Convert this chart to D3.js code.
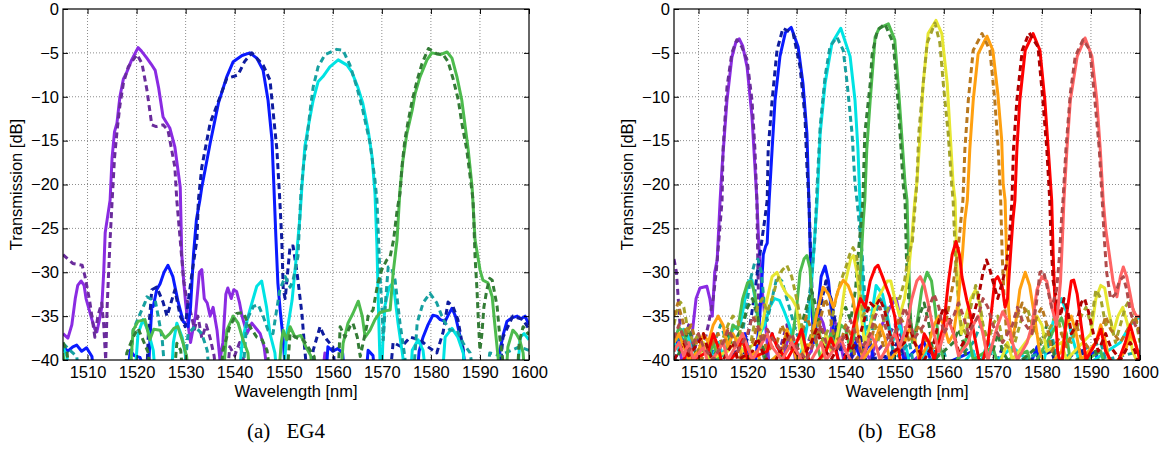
<!DOCTYPE html>
<html>
<head>
<meta charset="utf-8">
<script src="https://cdn.jsdelivr.net/npm/d3@7"></script>
<style>
body { margin: 0; background: #fff; }
svg { display: block; }
</style>
</head>
<body>
<div id="chart"></div>
<script>
// axis values
var xDomain = [1505, 1600];
var yDomain = [-40, 0];
var xTicks = [1510, 1520, 1530, 1540, 1550, 1560, 1570, 1580, 1590, 1600];
var yTicks = [0, -5, -10, -15, -20, -25, -30, -35, -40];
var xLabel = "Wavelength [nm]";
var yLabel = "Transmission [dB]";
var captions = ["(a)", "EG4", "(b)", "EG8"];

// ---------- EG4 : [wavelength nm, transmission dB] ----------
var eg4Ch1Solid = [[1505,-37],[1506,-37.5],[1506.8,-36],[1507.5,-33],[1508,-31.5],[1508.7,-31],[1509.3,-31.5],[1509.7,-33],[1510.2,-34],[1510.9,-35.4],[1511.5,-36.5],[1511.9,-36.8],[1512.4,-35.5],[1512.9,-34],[1513.3,-30],[1513.6,-25.5],[1514,-24],[1514.6,-21.8],[1515,-17],[1515.5,-14],[1516,-13],[1516.6,-10],[1517.3,-8],[1518,-7.2],[1519,-5.8],[1520.3,-4.4],[1521,-4.8],[1522.1,-5.6],[1523,-6.3],[1523.8,-7],[1524.5,-9],[1525.4,-12.3],[1526.8,-13.6],[1527.8,-15.7],[1528.9,-20.3],[1529.2,-27.8],[1529.6,-31],[1530,-33.5],[1530.5,-36],[1531,-38],[1532,-35],[1532.8,-30],[1533.3,-29.7],[1533.8,-33],[1534.4,-33.5],[1535,-35],[1535.6,-34],[1536.4,-36.6],[1537,-40],[1537.6,-38],[1538.2,-32.5],[1538.6,-31.8],[1539.3,-33],[1539.8,-32],[1540.4,-32.2],[1541,-33.5],[1541.5,-35],[1542.5,-37],[1543.5,-35.8],[1544.5,-36.5],[1545.2,-37],[1546,-38.5],[1547,-43],[1557.6,-43],[1558.4,-39.2],[1559,-43],[1600,-43]];
var eg4Ch1Dash = [[1505,-28],[1505.8,-28.4],[1507,-29],[1508.9,-29.2],[1509.5,-30.5],[1510.5,-33.5],[1511.5,-37.4],[1512.1,-35],[1512.9,-33.5],[1513.3,-36],[1513.7,-40],[1514,-34],[1514.3,-30],[1514.6,-26.3],[1515,-22],[1515.5,-17],[1516,-14],[1516.6,-11],[1517.3,-8.5],[1518.3,-6.6],[1519.3,-5.8],[1520.1,-5.2],[1521.1,-6.2],[1522.1,-9.2],[1523.1,-13.2],[1524,-13.4],[1525.4,-13.2],[1526.4,-13.8],[1527.8,-18],[1528.2,-21.8],[1529,-27],[1529.6,-31],[1530.2,-33],[1531,-34.5],[1531.8,-36.5],[1532.5,-35],[1533.3,-37.5],[1534.2,-36],[1535,-37.5],[1535.8,-39.5],[1536.5,-43],[1538.3,-43],[1539,-38.5],[1540,-39.5],[1541,-38],[1542,-40.5],[1543,-43],[1600,-43]];
var eg4Ch2Solid = [[1505,-38.5],[1506,-39],[1507,-38.5],[1507.8,-38.3],[1508.8,-39],[1509.8,-38.6],[1510.9,-39.6],[1511.5,-43],[1518,-43],[1518.7,-38.9],[1519.5,-39.5],[1520.7,-39.7],[1521.5,-41],[1522.3,-43],[1522.7,-38],[1523.1,-34],[1523.4,-33.9],[1524.1,-32],[1524.8,-31.3],[1525.6,-30],[1526.4,-29.2],[1527.4,-30.5],[1528.4,-33.2],[1529.5,-35.6],[1530.5,-36.2],[1531,-34],[1531.6,-28],[1532.2,-24],[1532.9,-21.8],[1533.3,-20.3],[1535,-15.3],[1536.7,-10.7],[1538.4,-7.7],[1539.7,-6],[1541.5,-5.3],[1543.1,-5],[1544.5,-5.6],[1545.8,-7],[1546.8,-10.4],[1547.6,-14.9],[1548,-20.3],[1548.4,-26],[1548.8,-31.2],[1549.3,-34.5],[1549.9,-37.7],[1550.5,-43],[1558.5,-43],[1559,-38.5],[1560,-39],[1561,-38.7],[1562,-39.2],[1562.6,-43],[1566.6,-43],[1567.2,-38.9],[1568.2,-39.5],[1568.8,-43],[1577,-43],[1577.6,-39],[1578.4,-37.4],[1579.4,-36],[1580.4,-34.9],[1581.2,-35],[1581.9,-35.4],[1582.9,-35.6],[1583.6,-34.8],[1584.3,-34.1],[1585,-35],[1585.5,-36.2],[1586.6,-38.9],[1587.2,-43],[1593.6,-43],[1594.1,-38.8],[1594.8,-37],[1595.5,-35.6],[1596.5,-35.2],[1597.6,-35],[1598.4,-35.3],[1599.2,-35],[1600,-36]];
var eg4Ch2Dash = [[1505,-43],[1522,-43],[1522.4,-37],[1523.1,-32],[1524.1,-31.7],[1525.4,-33.4],[1526.2,-35],[1526.8,-33.9],[1527.8,-32],[1528.9,-35],[1529.9,-36.2],[1530.6,-33],[1531.3,-30.1],[1532.3,-26.3],[1532.6,-21.8],[1533.3,-18],[1535,-13],[1536.3,-11.1],[1538.4,-7.9],[1539.7,-7.7],[1540.7,-7.5],[1542,-6],[1543.5,-5],[1545.8,-6.4],[1547.2,-8.1],[1547.8,-11.5],[1548.6,-16],[1549.2,-21.8],[1549.6,-26.3],[1549.9,-32],[1550.3,-33],[1550.8,-30],[1551.3,-27],[1551.9,-27],[1552.7,-30],[1553.7,-34.7],[1554.3,-38.9],[1555,-43],[1555.6,-43],[1556,-38.9],[1557.4,-36.2],[1558,-37],[1558.8,-37.7],[1560,-38.5],[1560.8,-43],[1571.5,-43],[1572.3,-38],[1574,-38.5],[1575.8,-37.4],[1577.8,-37.7],[1579.4,-38.5],[1581.2,-39.2],[1582.5,-36.8],[1583.5,-33.4],[1584.5,-33.9],[1585.5,-35.4],[1586.5,-38.5],[1587.2,-43],[1593.8,-43],[1594.7,-37.4],[1596.7,-35],[1598.8,-35.4],[1600,-36.5]];
var eg4Ch3Solid = [[1505,-38.5],[1505.8,-39.6],[1506.4,-43],[1519.5,-43],[1520.3,-37],[1521.3,-35.4],[1522.3,-36.6],[1523.4,-38.9],[1524,-43],[1527,-43],[1527.5,-38],[1528.2,-35.8],[1529.3,-37.4],[1529.9,-39.2],[1530.4,-43],[1540.8,-43],[1541.5,-38],[1542.3,-36],[1543.1,-34.3],[1544.5,-31.6],[1545.5,-31],[1546.5,-34],[1547.2,-37],[1548.2,-39.2],[1548.8,-43],[1549.8,-43],[1550.6,-37],[1551.7,-33.2],[1552.7,-27.5],[1553.3,-23.7],[1553.7,-20.3],[1554.3,-15.7],[1555,-13.4],[1556,-10.4],[1557,-8.3],[1558,-7.7],[1559.4,-6.6],[1561.1,-5.8],[1562.9,-6.4],[1563.9,-7.2],[1565.1,-8.9],[1566.1,-10.7],[1567.2,-13.8],[1568,-16.8],[1568.6,-21],[1569,-27],[1569.3,-34],[1569.6,-39.7],[1569.9,-43],[1570.2,-38],[1570.6,-33.9],[1571.5,-31.7],[1572,-31.4],[1572.6,-32.5],[1573.3,-35.8],[1574.3,-39.7],[1574.8,-43],[1575.7,-43],[1576.2,-38.9],[1577.4,-37.7],[1578.4,-38.9],[1579.2,-43],[1582.2,-43],[1582.9,-37.4],[1584.3,-36.4],[1585.5,-37.4],[1586.6,-39.2],[1587.2,-43],[1597.5,-43],[1598.2,-37.4],[1599,-37],[1600,-37.7]];
var eg4Ch3Dash = [[1505,-38.1],[1506.4,-38.9],[1507.8,-39.6],[1508.5,-43],[1518.5,-43],[1519.3,-36.6],[1520.5,-35],[1521.7,-33.5],[1522.1,-32.8],[1522.7,-33],[1523.8,-33.2],[1524.4,-35],[1525.2,-37.5],[1526,-43],[1529.5,-43],[1530.5,-37],[1531.9,-36.2],[1533.3,-37],[1534.4,-38.9],[1535,-43],[1541.5,-43],[1542.5,-35.4],[1543.8,-33.9],[1544.8,-33.7],[1545.8,-35],[1546.8,-36.6],[1547.8,-37],[1549.2,-32],[1550.3,-30.5],[1551.3,-31.7],[1551.9,-30.9],[1552.9,-28.2],[1553.5,-21],[1554,-18],[1554.7,-14.9],[1555.4,-11.5],[1556,-8.9],[1557,-6.6],[1558.4,-5.2],[1560.8,-4.6],[1562.1,-4.7],[1563.5,-6.4],[1564.9,-8.9],[1566.1,-11.5],[1567.6,-15.3],[1568.6,-19.5],[1569,-21.8],[1569.6,-30.1],[1570,-33.9],[1570.3,-37.7],[1570.8,-33],[1571.3,-29.4],[1572,-29.5],[1572.7,-30.9],[1573.7,-35.8],[1574.7,-39.7],[1575.2,-43],[1576.3,-43],[1577.2,-35.8],[1578.4,-33.5],[1579.8,-32.4],[1581.2,-33.5],[1582.5,-35.4],[1583.9,-36.6],[1585.3,-36.6],[1586.6,-38.1],[1588,-39.2],[1589,-43],[1591.2,-43],[1592,-39.2],[1594,-39.5],[1596,-39],[1598,-38.5],[1600,-38.9]];
var eg4Ch4Solid = [[1505,-39.2],[1505.8,-43],[1518.5,-43],[1519.3,-36.6],[1520.3,-35.6],[1521.7,-35.4],[1522.7,-37.7],[1523.5,-36.5],[1524.8,-36.6],[1525.8,-37.5],[1526.8,-37],[1527.6,-36.4],[1528.4,-36.2],[1529.5,-38.1],[1530.2,-39.6],[1530.8,-43],[1537.5,-43],[1538.4,-36.6],[1539.7,-35],[1540.7,-35.8],[1541.7,-37.7],[1542.7,-39.2],[1543.3,-43],[1548.8,-43],[1549.5,-38],[1549.9,-36.6],[1550.6,-37.7],[1551.3,-36.2],[1552.3,-37.4],[1553.5,-37.2],[1554.5,-38.5],[1555.5,-39.5],[1556.2,-43],[1561.5,-43],[1562.1,-38.1],[1563.1,-35.8],[1564.1,-34.7],[1565.2,-33.3],[1566,-35],[1566.6,-37.4],[1567.6,-36.6],[1568.6,-35.4],[1569.6,-34.6],[1570.6,-34.4],[1571.7,-34.3],[1572.3,-30.1],[1573.1,-26.3],[1573.7,-20.6],[1574.3,-17.2],[1575.1,-14.2],[1576.2,-11.5],[1576.8,-9.6],[1577.8,-7.7],[1579.2,-5.8],[1580.2,-5],[1581.9,-5.2],[1583.3,-4.9],[1584.3,-5.6],[1585.3,-7.7],[1586.3,-10.4],[1587,-13.4],[1587.6,-16],[1588.4,-20.3],[1589,-26.3],[1590,-29.7],[1590.6,-30.9],[1591.6,-31.2],[1592.5,-32.8],[1593,-35.8],[1593.7,-39.7],[1594.2,-43],[1595.2,-43],[1595.7,-38.5],[1596.7,-36.6],[1597.4,-37],[1598.1,-37.7],[1598.8,-39.2],[1599.3,-43],[1600,-43]];
var eg4Ch4Dash = [[1505,-38],[1505.8,-39],[1506.5,-43],[1517.5,-43],[1518,-39.2],[1519.3,-37.4],[1520.3,-36.4],[1521.3,-37.7],[1522.4,-39.2],[1523,-43],[1527.5,-43],[1528.2,-38.1],[1529,-38.9],[1529.6,-43],[1537,-43],[1537.6,-38.9],[1539,-36.2],[1540.4,-34.7],[1541.7,-34.6],[1543.1,-36.2],[1544.5,-37.4],[1545.6,-37.7],[1546.6,-38.9],[1547.5,-43],[1550.5,-43],[1551.3,-37],[1552.7,-37.5],[1554,-37.7],[1555.4,-38.9],[1556.2,-39.6],[1556.8,-43],[1561,-43],[1561.5,-36.2],[1562.5,-37.4],[1563.5,-36.2],[1564.1,-35.8],[1565,-37.4],[1565.6,-39.6],[1566.2,-38],[1566.9,-36.2],[1567.2,-35],[1568.2,-34.3],[1569.2,-31.2],[1570,-29.7],[1571,-28.6],[1571.7,-28.2],[1572.4,-26.3],[1573.1,-23],[1573.7,-21],[1574.1,-18],[1574.7,-14.9],[1575.4,-12.7],[1576.2,-10.4],[1577.2,-8.1],[1578.2,-6.2],[1579.5,-4.5],[1581.2,-5.1],[1582.5,-5.2],[1583.5,-6],[1584.6,-8.1],[1585.6,-10.4],[1586.3,-13],[1587.3,-16],[1588,-19.1],[1588.6,-21.8],[1589,-28.2],[1589.4,-32],[1589.7,-35.8],[1590,-38.9],[1590.4,-37],[1590.8,-34],[1591.4,-32],[1592,-30.7],[1592.5,-30.9],[1593.5,-33.9],[1594.1,-37.7],[1594.6,-39.7],[1595,-43],[1597.5,-43],[1598,-38],[1598.8,-36.2],[1599.8,-37],[1600,-37]];

// ---------- EG8 ----------
var eg8Ch1Solid = [[1505,-37],[1506,-38.5],[1507,-41],[1508.5,-38],[1509.5,-33],[1510.3,-31.8],[1511.7,-31.6],[1512.3,-33],[1512.8,-35],[1513.3,-30],[1513.8,-28.6],[1514.4,-21.8],[1514.8,-18],[1515.8,-10.4],[1516.8,-5.5],[1517.6,-3.8],[1518.3,-3.4],[1519,-4.2],[1519.9,-6.6],[1520.9,-12.3],[1521.5,-18],[1521.9,-21.8],[1522.3,-27],[1522.8,-31],[1523.5,-35],[1524.3,-40],[1525,-43],[1527,-41],[1528,-38],[1529,-37],[1530,-41],[1533,-39],[1534.2,-34.3],[1535.4,-35.8],[1536.5,-38.5],[1537.5,-35],[1538.5,-37],[1540,-41],[1543,-38],[1545,-40],[1547,-36.5],[1549,-34],[1550.3,-33],[1551.2,-35.5],[1552,-41],[1556,-39],[1557,-43],[1600,-43]];
var eg8Ch1Dash = [[1505,-28.5],[1505.5,-30],[1506.2,-35.8],[1507,-38],[1508,-36],[1509,-39],[1510,-37.5],[1511,-38.5],[1512,-36],[1513,-33],[1513.6,-30],[1514.2,-26],[1514.8,-21.8],[1515,-16],[1515.8,-8.9],[1516.8,-5],[1517.8,-3.5],[1518.8,-4.3],[1519.9,-5.8],[1520.9,-10.4],[1521.5,-16],[1521.9,-21.8],[1522.1,-29.4],[1522.3,-35],[1522.6,-38],[1523.5,-40],[1525,-37],[1526.5,-39],[1528,-36],[1529,-38.5],[1531,-40],[1533,-37],[1534.8,-33.5],[1536,-31],[1537,-33],[1538,-37],[1540,-39],[1542,-37.5],[1544,-40.5],[1548,-38],[1550,-36],[1552,-38],[1553,-43],[1600,-43]];
var eg8Ch2Solid = [[1505,-38.5],[1506.5,-37.5],[1508,-39],[1509,-43],[1512,-41],[1513,-39],[1514,-41],[1518,-39],[1519.5,-37],[1520.5,-40],[1521.5,-41],[1522.5,-35],[1523.2,-28],[1523.7,-27],[1524,-26.7],[1524.4,-21.8],[1525,-16],[1525.6,-10.4],[1526.6,-5.4],[1527.7,-2.7],[1528.9,-2.1],[1530.3,-4.3],[1531.3,-8.5],[1532.1,-14.2],[1532.5,-21.8],[1532.8,-28],[1533,-33],[1533.5,-38],[1534,-36],[1535,-30.5],[1535.8,-29.3],[1536.5,-31],[1537,-34],[1537.8,-38],[1538.5,-40],[1540,-41],[1542,-38],[1543,-40],[1545,-38],[1546,-41],[1551,-38.5],[1552,-40],[1556,-38],[1558,-41],[1566,-39],[1567,-41.5],[1578,-40],[1579,-38.5],[1580,-43],[1591,-39],[1592,-43],[1600,-43]];
var eg8Ch2Dash = [[1505,-40],[1507,-38],[1508,-41],[1516,-41],[1518,-38.5],[1519,-40],[1520.5,-36],[1521.3,-33],[1522,-30],[1522.5,-28],[1523,-26],[1523.5,-24],[1524,-21.8],[1524.2,-16],[1525,-10.4],[1526,-4.7],[1527.2,-2.2],[1529.3,-2.8],[1530.7,-6.6],[1531.7,-12.3],[1532.1,-18],[1532.5,-21.8],[1532.8,-27],[1533.2,-33],[1533.7,-37.5],[1534.3,-36],[1535.2,-33],[1536,-31],[1537,-33],[1538,-36],[1539,-39],[1541,-40],[1543,-37],[1544,-40],[1549,-39.5],[1551,-37.5],[1552,-41],[1558,-39],[1559,-41],[1571,-40],[1572,-38.5],[1573,-41],[1582,-39],[1583,-41],[1588,-38.5],[1589,-41],[1600,-43]];
var eg8Ch3Solid = [[1505,-38],[1506,-39],[1507,-36.5],[1508,-37.5],[1509,-40],[1512,-41],[1514,-38],[1515,-39.5],[1517,-36.5],[1518.5,-36],[1519.5,-33],[1520.2,-31],[1520.9,-30.9],[1521.5,-33],[1522.5,-37],[1523.5,-36],[1524.5,-34],[1525.5,-33],[1526.5,-33.2],[1527.5,-34.5],[1528.5,-36],[1529.5,-38],[1530.5,-40],[1531.5,-38],[1532.5,-35],[1533.2,-30],[1533.8,-25],[1534.2,-21.8],[1534.8,-14.2],[1535.8,-8.5],[1537.2,-3.9],[1539,-2.2],[1540.9,-5.4],[1541.9,-10.4],[1542.5,-16],[1542.9,-21.8],[1543.2,-27],[1543.6,-34],[1544,-38],[1545,-36],[1546.2,-31.5],[1547.5,-32.5],[1548.5,-35],[1549.5,-38],[1551,-36],[1552.5,-39],[1554,-43],[1557,-38],[1558.5,-40],[1563,-41],[1566,-39],[1567,-41],[1569,-38],[1571,-40],[1574,-38.5],[1576,-39.5],[1580,-41],[1583,-34],[1584,-33],[1585,-34.5],[1586,-37],[1588,-41],[1596,-38],[1598,-36],[1600,-35]];
var eg8Ch3Dash = [[1505,-39],[1506,-37],[1507,-38],[1508,-41],[1512,-40],[1514.5,-36],[1515.5,-37.5],[1517,-37],[1518.5,-38.5],[1519.5,-35],[1520.5,-31],[1521.4,-29],[1522.1,-28.5],[1522.8,-30],[1523.3,-33],[1524,-35.5],[1525,-33],[1526,-30.5],[1527,-31],[1528,-33],[1529,-35],[1530,-37],[1531,-38],[1532,-35],[1533,-31],[1533.7,-26.3],[1534.2,-19.9],[1534.8,-13.4],[1535.8,-7.7],[1536.8,-4.3],[1538.2,-3.2],[1539.5,-4.7],[1540.3,-8.5],[1541.3,-14.2],[1541.9,-19.9],[1542.3,-21.8],[1543.3,-27.5],[1543.8,-32],[1544.3,-36],[1545,-38],[1546,-35],[1547,-33],[1548,-34],[1549,-37],[1550,-40],[1553,-38],[1554,-41],[1560,-39],[1561,-41],[1566,-38],[1567.5,-36],[1569,-37.5],[1570,-41],[1581,-39],[1582,-37],[1583,-40],[1592,-38],[1593,-40],[1600,-39]];
var eg8Ch4Solid = [[1505,-38],[1506,-36.3],[1507,-37],[1508,-38.5],[1509,-41],[1512,-40],[1513,-38],[1514,-40],[1516,-38.5],[1517,-36],[1518,-36.5],[1519,-33],[1520,-31.2],[1520.7,-31],[1521.5,-32.5],[1522.3,-36],[1523,-39],[1524,-40.5],[1527,-39],[1528,-37],[1529,-38],[1530,-34],[1530.7,-30],[1531.5,-28.5],[1532.1,-28.1],[1532.7,-29.5],[1533.3,-34],[1534,-38],[1535,-40],[1537,-37],[1538,-38.5],[1539,-36],[1540,-36.5],[1541,-39],[1542.5,-35],[1543.2,-28],[1543.6,-24],[1543.9,-21.8],[1544.3,-16],[1545,-10.4],[1546,-3.2],[1546.8,-2.2],[1548.7,-1.7],[1550,-3.5],[1550.7,-8.5],[1551.4,-14.2],[1552.1,-19.9],[1552.5,-21.8],[1552.8,-28],[1553.2,-35],[1553.6,-38],[1554.5,-36],[1555.5,-32],[1556.6,-30],[1557.5,-31],[1558.2,-34],[1559,-38],[1560,-40],[1562,-41],[1565,-37],[1566,-40],[1570,-38.5],[1571,-40.5],[1577,-39],[1578,-41],[1583,-36],[1584,-35.2],[1585,-37],[1586,-41],[1592,-39],[1593,-41],[1600,-43]];
var eg8Ch4Dash = [[1505,-40.5],[1507,-38],[1508,-36.5],[1509,-38],[1510,-41],[1514,-39],[1516,-37],[1517,-38.5],[1519,-36],[1520,-34],[1521,-33],[1522,-35],[1523,-38],[1524,-41],[1528,-39],[1529,-37.5],[1530,-39],[1531,-36],[1532,-34],[1533,-32],[1534,-34],[1535,-37],[1536,-39],[1538,-37],[1539,-35],[1540,-34],[1541,-35.5],[1542,-32],[1542.7,-27],[1543.2,-24],[1543.5,-21.8],[1543.9,-14.2],[1545,-8.5],[1545.4,-5.1],[1546.5,-2.4],[1548,-1.7],[1549.7,-3.9],[1550.4,-8.5],[1551.1,-14.2],[1551.7,-19.9],[1552.1,-21.8],[1552.4,-28.6],[1552.8,-32.8],[1553.3,-36],[1554,-38],[1555,-35],[1556,-33.5],[1557,-36],[1558,-40],[1562,-38],[1563,-36.5],[1564,-38],[1565,-41],[1570,-39],[1571,-37],[1572,-39],[1574,-41],[1580,-38],[1581,-36],[1582,-38],[1583,-41],[1591,-39],[1592,-41],[1600,-41]];
var eg8Ch5Solid = [[1505,-41],[1510,-40],[1511,-38],[1512,-40],[1516,-39],[1518,-37.5],[1519,-39],[1522,-38],[1523,-36],[1524,-33],[1525,-30.5],[1526,-30],[1527,-31.5],[1528,-32.5],[1529,-33],[1530,-34],[1531,-38],[1532,-41],[1535,-40],[1536,-37],[1537,-39],[1538,-38],[1539,-35],[1540,-31],[1541,-28.5],[1541.6,-28.1],[1542.3,-30],[1543,-34],[1543.8,-38],[1544.5,-37],[1545.5,-35],[1546.5,-33],[1547.5,-32],[1548.5,-31],[1549.2,-31],[1550,-33],[1551,-35],[1552,-33],[1552.8,-30],[1553.5,-26],[1554.1,-21.8],[1554.5,-19.9],[1555.2,-14.2],[1555.8,-8.5],[1556.8,-2.8],[1558.4,-1.3],[1559.6,-2.8],[1560.7,-8.5],[1561.3,-14.2],[1561.9,-19.9],[1562.3,-21.8],[1562.6,-28],[1563,-34],[1563.6,-37],[1564.5,-35],[1565.5,-33],[1566.5,-32],[1567.3,-33.5],[1568,-37],[1569,-40],[1571,-41],[1573,-38],[1574,-40],[1578,-37],[1579,-35],[1580,-36],[1581,-39],[1584,-38],[1585,-40],[1590,-37],[1591,-33],[1592,-31.5],[1592.8,-31.8],[1593.5,-34],[1594.5,-37],[1595.5,-35],[1596.5,-34],[1597.5,-36],[1598.5,-39],[1600,-41]];
var eg8Ch5Dash = [[1505,-36],[1505.5,-34.5],[1506.3,-33.4],[1507,-34],[1507.8,-36.5],[1509,-38],[1510,-37],[1511,-39],[1513,-37.5],[1514,-39],[1516,-36],[1517,-35],[1518,-35.5],[1519,-38],[1520,-40],[1521,-37],[1522,-34],[1523,-33],[1524,-34.5],[1525,-33],[1526,-31],[1527,-29.8],[1528,-29.2],[1529,-30.5],[1530,-33],[1531,-36],[1532,-39],[1533,-37],[1534,-35],[1535,-38],[1537,-36],[1538,-33],[1539,-31],[1540,-29.5],[1540.8,-28],[1541.5,-27.2],[1542.2,-28],[1542.8,-31],[1543.5,-35],[1544.5,-34],[1545.5,-35],[1546.5,-38],[1548,-35],[1549.5,-33],[1551,-33],[1552,-31],[1552.8,-28],[1553.6,-26.5],[1554.2,-22],[1554.5,-19.9],[1554.9,-14.2],[1555.8,-8.5],[1556.6,-3.9],[1558.2,-1.6],[1559.2,-3.9],[1559.9,-8.5],[1560.9,-14.2],[1561.6,-19.9],[1561.9,-21.8],[1562.2,-26],[1562.5,-30],[1563,-33],[1563.5,-36],[1564.5,-37],[1565.5,-34],[1566.5,-31.5],[1567.2,-33],[1568,-36],[1569,-38],[1570,-36],[1571,-35],[1572,-38],[1574,-39],[1576,-35],[1577,-34],[1578,-36],[1580,-38],[1582,-36],[1583,-34.5],[1584,-37],[1586,-38],[1588,-35],[1589,-34],[1590,-36],[1591,-32],[1592,-33],[1593,-36],[1594,-35.5],[1595,-38],[1596,-36],[1597,-34],[1598,-33],[1599,-35],[1600,-38]];
var eg8Ch6Solid = [[1505,-38],[1506,-37],[1507,-38.5],[1508,-40],[1510,-39],[1511,-37],[1512,-38],[1513,-36],[1514,-35],[1515,-36],[1516,-38.5],[1517,-37],[1518,-38],[1519,-40],[1522,-39],[1523,-41],[1527,-39],[1528,-36.5],[1529,-38],[1530,-40],[1533,-38],[1534,-35],[1535.4,-31.7],[1536.5,-32.5],[1537.5,-34],[1538.5,-32],[1539.5,-30.9],[1540.5,-31.5],[1541.5,-33],[1542.5,-37],[1543.5,-40],[1546,-38],[1547,-36],[1548,-37.5],[1549,-40],[1552,-38],[1553,-36.5],[1554,-37.5],[1555,-40],[1557,-38],[1558,-36],[1559,-35],[1560,-36],[1561,-38],[1562,-37],[1563,-33],[1563.8,-28],[1564.3,-24],[1564.8,-21.8],[1565.3,-16],[1566,-10.4],[1567,-5.1],[1568.8,-3.1],[1570,-4.7],[1571,-9.6],[1571.8,-14.9],[1572.1,-19.9],[1572.5,-21.8],[1572.8,-28],[1573.2,-34],[1573.8,-38],[1574.6,-36],[1575.5,-32],[1576.6,-30],[1577.5,-31.5],[1578.5,-35],[1579.5,-39],[1581,-41],[1584,-39],[1585,-36],[1586,-35],[1587,-37],[1588,-40],[1591,-38],[1592,-36],[1593,-38],[1594,-41],[1597,-39],[1598,-37],[1599,-38],[1600,-40]];
var eg8Ch6Dash = [[1505,-35],[1505.8,-33.5],[1506.5,-35],[1507.5,-37],[1508.5,-36],[1509.5,-38],[1510.5,-40],[1513,-38],[1514,-37],[1515,-38.5],[1516,-36.5],[1517,-37.5],[1518,-40],[1521,-38],[1522,-36],[1523,-37],[1524,-39],[1526,-38],[1527,-36],[1528,-37.5],[1529,-39],[1531,-37],[1532,-35],[1533,-36.5],[1534,-38],[1535,-35],[1535.8,-33],[1536.5,-34],[1537.5,-37],[1539,-38],[1540,-36],[1541,-37],[1542,-40],[1545,-38],[1546,-36],[1547,-37],[1548,-39],[1550,-37],[1551,-35],[1552,-36],[1553,-38],[1555,-36],[1556,-37.5],[1558,-39],[1560,-37],[1561,-34],[1562,-31],[1563,-27],[1563.5,-24],[1563.9,-21.8],[1564.3,-16],[1565,-10.4],[1566,-4.7],[1567.8,-2.8],[1569.4,-4.7],[1570.4,-10.4],[1571.1,-16],[1571.6,-21.8],[1571.9,-28],[1572.3,-33],[1572.8,-37],[1574,-38],[1575,-35],[1576,-33.5],[1577,-35],[1578,-37],[1579,-35],[1580,-34],[1581,-36],[1582,-39],[1584,-37],[1585,-38.5],[1587,-36],[1588,-37.5],[1590,-39],[1592,-37],[1593,-35],[1594,-36.5],[1596,-38],[1598,-36],[1599,-35],[1600,-37]];
var eg8Ch7Solid = [[1505,-41],[1507,-40],[1508,-38.5],[1509,-40],[1512,-39],[1513,-37],[1514,-38.5],[1515,-41],[1518,-39],[1519,-37.5],[1520,-40],[1524,-39],[1525,-37],[1526,-38.5],[1528,-40],[1530,-38],[1531,-36.5],[1532,-39],[1533,-41],[1536,-39],[1537,-37.5],[1538,-39],[1539,-41],[1541,-38],[1542,-35],[1543,-33],[1544,-34],[1545,-31],[1546,-29.5],[1546.6,-29.2],[1547.5,-30.5],[1549,-32.8],[1550,-35],[1551,-39.6],[1552,-43],[1555,-40],[1556,-37],[1557,-38],[1558,-40],[1560,-36],[1560.9,-31.3],[1561.7,-28],[1562.5,-26.5],[1563.2,-28],[1563.7,-30.5],[1564.7,-33.2],[1565.5,-35],[1566.5,-38],[1567.5,-41],[1569,-38],[1570,-33],[1570.4,-30.9],[1571,-30.5],[1571.9,-31.6],[1572.5,-34],[1573,-33],[1573.6,-28],[1574.1,-24],[1574.5,-21.8],[1574.9,-16],[1575.5,-10.4],[1576.6,-4.7],[1578.2,-2.8],[1579.6,-4.7],[1580.6,-10.4],[1581.3,-16],[1582,-21.8],[1582.3,-28],[1582.7,-34],[1583.2,-39],[1584,-41],[1585,-35],[1586,-31],[1586.5,-30.9],[1587.2,-32.5],[1588,-36],[1589,-40],[1591,-38],[1592,-36.5],[1593,-39],[1595,-41],[1597,-38],[1598,-36],[1599,-38],[1600,-40]];
var eg8Ch7Dash = [[1505,-40],[1507,-38],[1508,-39.5],[1510,-38],[1511,-37],[1512,-39],[1514,-41],[1516,-39],[1517,-38],[1518,-40],[1521,-39],[1522,-37.5],[1523,-39],[1525,-41],[1527,-38.5],[1528,-37],[1529,-38.5],[1531,-40],[1533,-38],[1534,-36.5],[1535,-38],[1537,-40],[1539,-38],[1540,-37],[1541,-39],[1543,-37],[1544,-35],[1545,-33.5],[1546,-34],[1547,-33],[1548,-34.5],[1549,-37],[1550,-39],[1552,-38],[1553,-36],[1554,-38],[1556,-40],[1558,-38],[1559,-35.5],[1560,-34],[1561,-35],[1562,-37],[1563,-39],[1565,-37],[1566,-35],[1567,-33],[1568,-30],[1568.7,-28.6],[1569.3,-29.5],[1570,-31],[1571,-33],[1572,-31],[1572.8,-29],[1573.4,-26],[1573.9,-21.8],[1574.2,-16],[1574.9,-10.4],[1576,-4.7],[1577.4,-2.7],[1579.2,-4.3],[1580.2,-10.4],[1581,-16],[1581.6,-21.8],[1581.9,-27],[1582.3,-31],[1583,-33],[1583.8,-35],[1584.5,-33],[1585.3,-34.5],[1586,-37],[1587,-36],[1588,-33.5],[1588.7,-33],[1589.5,-34.5],[1590.5,-37],[1591.5,-39],[1593,-37],[1594,-38.5],[1596,-40],[1598,-38],[1599,-39],[1600,-41]];
var eg8Ch8Solid = [[1505,-39],[1506,-38],[1507,-39.5],[1508,-38],[1509,-40],[1511,-38.5],[1512,-40.5],[1514,-39],[1515,-38],[1516,-40],[1518,-38],[1519,-37],[1520,-38.5],[1521,-40],[1523,-38],[1524,-37],[1525,-38.5],[1527,-40],[1529,-38],[1530,-39],[1532,-41],[1534,-39],[1535,-38],[1536,-40],[1538,-38.5],[1539,-37.5],[1540,-39],[1542,-41],[1544,-39],[1545,-37],[1546,-38],[1547,-40],[1549,-38],[1550,-37],[1551,-38.5],[1552.5,-36],[1553.5,-33],[1554.5,-31],[1555.2,-30.5],[1556,-31.5],[1557,-34],[1558,-37],[1559,-39],[1560,-37],[1561,-35.5],[1562,-37],[1563,-39.5],[1565,-38],[1566,-36],[1567,-35],[1568,-37],[1569,-40],[1571,-36],[1572,-34.5],[1573,-35.5],[1574,-38],[1575,-40],[1577,-38],[1578,-36],[1579,-32],[1580,-30.5],[1581,-31],[1582,-34],[1583,-36],[1583.8,-31],[1584.2,-26],[1584.5,-21.8],[1585.1,-16],[1585.8,-10.4],[1587.2,-5.4],[1588.8,-3.3],[1590.2,-5.4],[1591.2,-10.4],[1591.9,-16],[1592.5,-21.8],[1593,-25],[1593.9,-28.6],[1594.5,-31],[1595.3,-32.8],[1596,-30.5],[1596.6,-29.4],[1597.3,-30.5],[1598,-32.5],[1598.6,-34.3],[1599.3,-35],[1600,-35]];
var eg8Ch8Dash = [[1505,-37.5],[1506,-36],[1507,-37.5],[1508,-39],[1510,-37],[1511,-38.5],[1513,-40],[1515,-38],[1516,-36.5],[1517,-37.5],[1518,-39],[1520,-37],[1521,-35],[1522,-36],[1523,-38],[1524,-36.5],[1525,-37.5],[1527,-39],[1529,-37],[1530,-38.5],[1532,-40],[1534,-37.5],[1535,-36],[1536,-38],[1538,-39],[1540,-37],[1541,-35.5],[1542,-37],[1543,-39],[1545,-37],[1546,-35],[1547,-34],[1548,-36],[1549,-38],[1551,-36],[1552,-34],[1553,-35.5],[1554,-37.5],[1556,-36],[1557,-34],[1558,-32.5],[1559,-34],[1560,-37],[1562,-35],[1563,-33.5],[1564,-35],[1565,-37],[1567,-35],[1568,-33],[1569,-34],[1570,-36],[1572,-38],[1574,-36],[1575,-34],[1576,-35.5],[1578,-37],[1579,-33],[1579.6,-30],[1580.3,-29.8],[1581,-31.5],[1582,-34],[1583,-32],[1583.6,-28],[1584,-24],[1584.3,-21.8],[1584.9,-16],[1585.8,-9.6],[1586.8,-5.4],[1588.4,-3.5],[1589.8,-4.7],[1590.8,-10.4],[1591.7,-16],[1592.3,-21.8],[1592.7,-26],[1593.2,-30],[1594,-33],[1595,-32.5],[1595.8,-31],[1596.6,-30.5],[1597.3,-32],[1598,-34.5],[1599,-36],[1600,-37]];

// ---------- styling (separate from data) ----------
var eg4Series = [
  {d: eg4Ch1Solid, c: "#8a2be2", dash: false},
  {d: eg4Ch1Dash,  c: "#6a2c9c", dash: true},
  {d: eg4Ch2Solid, c: "#0a1aff", dash: false},
  {d: eg4Ch2Dash,  c: "#0f1c9e", dash: true},
  {d: eg4Ch3Solid, c: "#00e3e3", dash: false},
  {d: eg4Ch3Dash,  c: "#16a0a0", dash: true},
  {d: eg4Ch4Solid, c: "#4dbb4d", dash: false},
  {d: eg4Ch4Dash,  c: "#347c36", dash: true}
];
var eg8Series = [
  {d: eg8Ch1Solid, c: "#8a2be2", dash: false},
  {d: eg8Ch1Dash,  c: "#6a2c9c", dash: true},
  {d: eg8Ch2Solid, c: "#0a1aff", dash: false},
  {d: eg8Ch2Dash,  c: "#0f1c9e", dash: true},
  {d: eg8Ch3Solid, c: "#00e3e3", dash: false},
  {d: eg8Ch3Dash,  c: "#16a0a0", dash: true},
  {d: eg8Ch4Solid, c: "#4dbb4d", dash: false},
  {d: eg8Ch4Dash,  c: "#347c36", dash: true},
  {d: eg8Ch5Solid, c: "#e6e632", dash: false},
  {d: eg8Ch5Dash,  c: "#a3a32a", dash: true},
  {d: eg8Ch6Solid, c: "#ffa010", dash: false},
  {d: eg8Ch6Dash,  c: "#b8781e", dash: true},
  {d: eg8Ch7Solid, c: "#ff0000", dash: false},
  {d: eg8Ch7Dash,  c: "#b00000", dash: true},
  {d: eg8Ch8Solid, c: "#ff6464", dash: false},
  {d: eg8Ch8Dash,  c: "#b04a4a", dash: true}
];

var W = 1167, H = 449;
var svg = d3.select("#chart").append("svg")
    .attr("width", W)
    .attr("height", H);

var font = "'Liberation Sans', Arial, Helvetica, sans-serif";
var fs = 16.5;

function drawPanel(id, box, series, capA, capB) {
  var x = d3.scaleLinear().domain(xDomain).range([box.x0, box.x1]);
  var y = d3.scaleLinear().domain(yDomain).range([box.y1, box.y0]);
  var g = svg.append("g");

  g.append("clipPath").attr("id", "clip" + id)
    .append("rect")
      .attr("x", box.x0).attr("y", box.y0)
      .attr("width", box.x1 - box.x0).attr("height", box.y1 - box.y0);

  // grid
  g.append("g").selectAll("line")
    .data(xTicks.filter(function(d) { return d != xDomain[1]; }))
    .enter().append("line")
      .attr("x1", function(d) { return x(d); }).attr("x2", function(d) { return x(d); })
      .attr("y1", box.y0).attr("y2", box.y1)
      .attr("stroke", "#8c8c8c").attr("stroke-width", 1)
      .attr("stroke-dasharray", "1,2");
  g.append("g").selectAll("line")
    .data(yTicks.filter(function(d) { return d != 0 && d != -40; }))
    .enter().append("line")
      .attr("y1", function(d) { return y(d); }).attr("y2", function(d) { return y(d); })
      .attr("x1", box.x0).attr("x2", box.x1)
      .attr("stroke", "#8c8c8c").attr("stroke-width", 1)
      .attr("stroke-dasharray", "1,2");

  var line = d3.line()
    .x(function(d) { return x(d[0]); })
    .y(function(d) { return y(d[1]); });

  g.append("g").attr("clip-path", "url(#clip" + id + ")")
    .selectAll("path")
    .data(series)
    .enter().append("path")
      .attr("d", function(s) { return line(s.d); })
      .attr("fill", "none")
      .attr("stroke", function(s) { return s.c; })
      .attr("stroke-width", 3)
      .attr("stroke-dasharray", function(s) { return s.dash ? "6,4" : null; })
      .attr("stroke-linejoin", "round");

  // axes (ticks pointing inward)
  var fmt = function(d) { return d < 0 ? "\u2212" + Math.abs(d) : d; };
  var ax = g.append("g").attr("transform", "translate(0," + box.y1 + ")")
    .call(d3.axisBottom(x).tickValues(xTicks).tickFormat(d3.format("d")).tickSizeInner(-5).tickSizeOuter(0).tickPadding(6));
  var ay = g.append("g").attr("transform", "translate(" + box.x0 + ",0)")
    .call(d3.axisLeft(y).tickValues(yTicks).tickFormat(fmt).tickSizeInner(-5).tickSizeOuter(0).tickPadding(4));
  var at = g.append("g").attr("transform", "translate(0," + box.y0 + ")")
    .call(d3.axisTop(x).tickValues(xTicks).tickFormat("").tickSizeInner(-5).tickSizeOuter(0));
  var ar = g.append("g").attr("transform", "translate(" + box.x1 + ",0)")
    .call(d3.axisRight(y).tickValues(yTicks).tickFormat("").tickSizeInner(-5).tickSizeOuter(0));
  [ax, ay, at, ar].forEach(function(a) {
    a.select(".domain").remove();
    a.selectAll("line").attr("stroke", "#000");
    a.selectAll("text").attr("font-family", font).attr("font-size", fs).attr("fill", "#000");
  });

  g.append("rect")
    .attr("x", box.x0).attr("y", box.y0)
    .attr("width", box.x1 - box.x0).attr("height", box.y1 - box.y0)
    .attr("fill", "none").attr("stroke", "#000").attr("stroke-width", 1.2);

  g.append("text")
    .attr("x", (box.x0 + box.x1) / 2).attr("y", 397)
    .attr("text-anchor", "middle")
    .attr("font-family", font).attr("font-size", fs)
    .text(xLabel);

  g.append("text")
    .attr("transform", "translate(" + (box.x0 - 41) + "," + ((box.y0 + box.y1) / 2) + ") rotate(-90)")
    .attr("text-anchor", "middle")
    .attr("font-family", font).attr("font-size", fs)
    .text(yLabel);

  var cx = (box.x0 + box.x1) / 2 - 10;
  g.append("text")
    .attr("x", cx - 39).attr("y", 438)
    .attr("font-family", "'Liberation Serif', 'DejaVu Serif', serif").attr("font-size", 21)
    .text(capA);
  g.append("text")
    .attr("x", cx + 39).attr("y", 438)
    .attr("text-anchor", "end")
    .attr("font-family", "'Liberation Serif', 'DejaVu Serif', serif").attr("font-size", 21)
    .text(capB);
}

drawPanel("a", {x0: 63, x1: 529, y0: 9, y1: 360}, eg4Series, captions[0], captions[1]);
drawPanel("b", {x0: 674, x1: 1140, y0: 9, y1: 360}, eg8Series, captions[2], captions[3]);
</script>
</body>
</html>
